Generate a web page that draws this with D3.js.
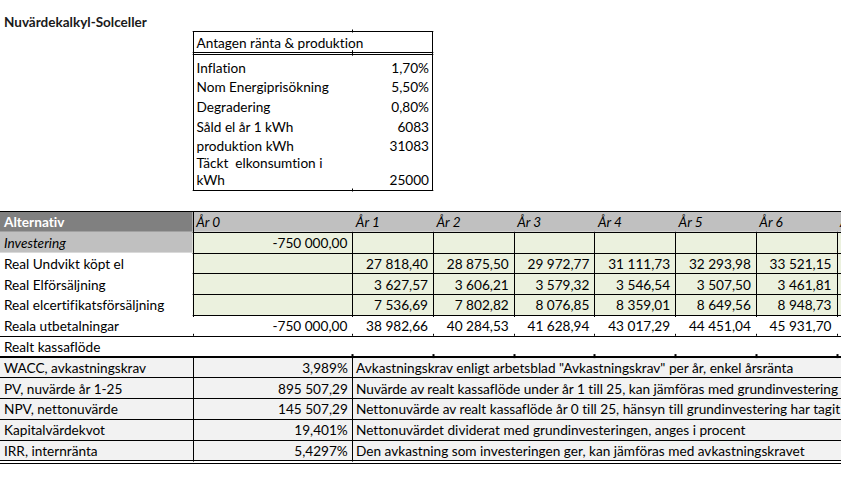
<!DOCTYPE html>
<html><head><meta charset="utf-8">
<script src="https://cdn.jsdelivr.net/npm/d3@7"></script>
<style>html,body{margin:0;padding:0;background:#fff;overflow:hidden}text{white-space:pre;font-variant-ligatures:none;font-feature-settings:"liga" 0}</style>
</head><body><svg id="c" width="841" height="486"></svg>
<script>
// ---------- DATA ----------
const title = "Nuvärdekalkyl-Solceller";
const boxTitle = "Antagen ränta & produktion";
const assumptionLabels = [["Inflation"], ["Nom Energiprisökning"], ["Degradering"], ["Såld el år 1 kWh"], ["produktion kWh"], ["Täckt  elkonsumtion i", "kWh"]];
const assumptionValues = [0.017, 0.055, 0.008, 6083, 31083, 25000];
const assumptionFormats = ["pct2", "pct2", "pct2", "int", "int", "int"];

const headerLabel = "Alternativ";
const years = ["År 0", "År 1", "År 2", "År 3", "År 4", "År 5", "År 6", "År 7"];
const rowLabels = ["Investering", "Real Undvikt köpt el", "Real Elförsäljning", "Real elcertifikatsförsäljning", "Reala utbetalningar"];
const investering = [-750000, null, null, null, null, null, null, null];
const undviktKoptEl = [null, 27818.40, 28875.50, 29972.77, 31111.73, 32293.98, 33521.15, null];
const elforsaljning = [null, 3627.57, 3606.21, 3579.32, 3546.54, 3507.50, 3461.81, null];
const elcertifikat = [null, 7536.69, 7802.82, 8076.85, 8359.01, 8649.56, 8948.73, null];
const realaUtbetalningar = [-750000, 38982.66, 40284.53, 41628.94, 43017.29, 44451.04, 45931.70, null];
const tableSeries = [investering, undviktKoptEl, elforsaljning, elcertifikat, realaUtbetalningar];

const sectionLabel = "Realt kassaflöde";
const summaryLabels = ["WACC, avkastningskrav", "PV, nuvärde år 1-25", "NPV, nettonuvärde", "Kapitalvärdekvot", "IRR, internränta"];
const summaryValues = [0.03989, 895507.29, 145507.29, 0.19401, 0.054297];
const summaryFormats = ["pct3", "num2", "num2", "pct3", "pct4"];
const summaryNotes = [
  "Avkastningskrav enligt arbetsblad \"Avkastningskrav\" per år, enkel årsränta",
  "Nuvärde av realt kassaflöde under år 1 till 25, kan jämföras med grundinvestering",
  "Nettonuvärde av realt kassaflöde år 0 till 25, hänsyn till grundinvestering har tagit",
  "Nettonuvärdet dividerat med grundinvesteringen, anges i procent",
  "Den avkastning som investeringen ger, kan jämföras med avkastningskravet"
];

// ---------- SETUP ----------
const W = 841, H = 486;
const svg = d3.select("#c");
const FONT = "Lato, Carlito, Calibri, sans-serif";
const loc = d3.formatLocale({decimal: ",", thousands: "\u00a0", grouping: [3], currency: ["", ""], percent: "%", minus: "-"});
const fmts = {pct2: loc.format(".2%"), pct3: loc.format(".3%"), pct4: loc.format(".4%"), int: loc.format("d"), num2: loc.format(",.2f")};

function calib(str, target, weight) {
  const p = svg.append("text").attr("font-family", FONT).attr("font-size", 100).attr("font-weight", weight).text(str);
  const w = p.node().getComputedTextLength(); p.remove();
  return 100 * target / w;
}
const FS = calib(boxTitle, 167, "normal");
const FSB = calib(title, 143, "bold");

const px = v => Math.round(v) + 0.5;
const gFill = svg.append("g"), gLine = svg.append("g"), gText = svg.append("g");
function hline(x1, x2, y, w = 1, col = "#000") {
  const yy = w % 2 ? px(y) : Math.round(y);
  gLine.append("line").attr("x1", x1).attr("x2", x2).attr("y1", yy).attr("y2", yy).attr("stroke", col).attr("stroke-width", w);
}
function vline(x, y1, y2, w = 1, col = "#000") {
  gLine.append("line").attr("x1", px(x)).attr("x2", px(x)).attr("y1", y1).attr("y2", y2).attr("stroke", col).attr("stroke-width", w);
}
function txt(s, x, y, opts = {}) {
  return gText.append("text").attr("x", x).attr("y", y).attr("font-family", FONT)
    .attr("font-size", opts.bold ? FSB : FS).attr("font-weight", opts.bold ? "bold" : "normal")
    .attr("font-style", opts.italic ? "italic" : "normal").attr("fill", opts.fill || "#000")
    .attr("text-anchor", opts.anchor || "start").text(s);
}

// ---------- TITLE ----------
txt(title, 4, 27, {bold: true, fill: "#1a1a1a"});

// ---------- ASSUMPTION BOX ----------
const boxL = 192.7, boxR = 432.3, boxTop = 31, boxBottom = 190;
const boxBase = d3.scaleLinear().domain([0, 1]).range([72.5, 92.2]);
hline(boxL, boxR + 1, boxTop);
hline(boxL, boxR + 1, 51.7);
hline(boxL, boxR + 1, 54.2);
hline(boxL, boxR + 1, boxBottom);
vline(boxL, boxTop, boxBottom + 1);
vline(boxR, boxTop, boxBottom + 1);
[boxTop, 51.7, 54.2, boxBottom].forEach(y => vline(352.3, y - 1.5, y + 1.5));
txt(boxTitle, 196.5, 48.3);
assumptionLabels.forEach((lines, i) => {
  if (lines.length === 1) {
    txt(lines[0], 196.5, boxBase(i));
    txt(fmts[assumptionFormats[i]](assumptionValues[i]), 429, boxBase(i), {anchor: "end"});
  } else {
    txt(lines[0], 196.5, 168.3);
    txt(lines[1], 196.5, 185.3);
    txt(fmts[assumptionFormats[i]](assumptionValues[i]), 429, 185.3, {anchor: "end"});
  }
});

// ---------- MAIN TABLE ----------
const colA = [0, 192.7];
const yearX = d3.scaleLinear().domain([1, 2]).range([352.3, 433]);
const colLeft = i => i === 0 ? 192.7 : yearX(i);
const colRight = i => yearX(i + 1);
const rowY = d3.scaleLinear().domain([0, 1]).range([211, 231.8]);
const base = r => rowY(r + 1) - 4.6;

// fills
gFill.append("rect").attr("x", 0).attr("y", rowY(0)).attr("width", colA[1]).attr("height", rowY(1) - rowY(0)).attr("fill", "#808080");
gFill.append("rect").attr("x", colA[1]).attr("y", rowY(0)).attr("width", W - colA[1]).attr("height", rowY(1) - rowY(0)).attr("fill", "#c0c0c0");
gFill.append("rect").attr("x", 0).attr("y", rowY(1)).attr("width", colA[1]).attr("height", rowY(2) - rowY(1)).attr("fill", "#c0c0c0");
gFill.append("rect").attr("x", colA[1]).attr("y", rowY(1)).attr("width", W - colA[1]).attr("height", rowY(5) - rowY(1)).attr("fill", "#ebf1de");
gFill.append("rect").attr("x", 0).attr("y", rowY(7)).attr("width", W).attr("height", rowY(12) - rowY(7)).attr("fill", "#f2f2f2");

// lines
hline(0, W, rowY(0));
vline(colA[1], rowY(0), rowY(5));
for (let r = 1; r <= 5; r++) hline(colA[1], W, rowY(r));
years.forEach((y, i) => { if (i > 0) vline(colLeft(i), rowY(1), rowY(5)); });
vline(yearX(8), rowY(1), rowY(5));
hline(0, W, rowY(6));
years.forEach((y, i) => { const x = i === 0 ? colA[1] : colLeft(i); vline(x, rowY(5), rowY(5) + 2); vline(x, rowY(6) - 2, rowY(6)); });
hline(0, W, rowY(7), 2);
years.forEach((y, i) => { if (i > 0) vline(colLeft(i), rowY(7) - 2.5, rowY(7) + 1.5, 2); });
for (let r = 8; r <= 11; r++) hline(0, W, rowY(r));
vline(colA[1], rowY(7), rowY(12) + 1);
vline(yearX(1), rowY(7), rowY(12) + 1);
hline(0, W, rowY(12) - 0.5);
hline(0, W, rowY(12) + 2);

// header text
txt(headerLabel, 4, base(0), {bold: true, fill: "#fff"}).attr("font-size", FS);
years.forEach((y, i) => txt(y, colLeft(i) + 3.5, base(0), {italic: true}));

// row labels & values
rowLabels.forEach((lab, r) => {
  txt(lab, 4, base(r + 1), {italic: r === 0});
  tableSeries[r].forEach((v, i) => {
    if (v !== null) txt(fmts.num2(v), colRight(i) - 5, base(r + 1), {anchor: "end"});
  });
});
txt(sectionLabel, 4, base(6));

// summary
summaryLabels.forEach((lab, k) => {
  const r = 7 + k;
  txt(lab, 4, base(r));
  txt(fmts[summaryFormats[k]](summaryValues[k]), yearX(1) - 4.5, base(r), {anchor: "end"});
  txt(summaryNotes[k], yearX(1) + 3.7, base(r));
});
</script></body></html>
